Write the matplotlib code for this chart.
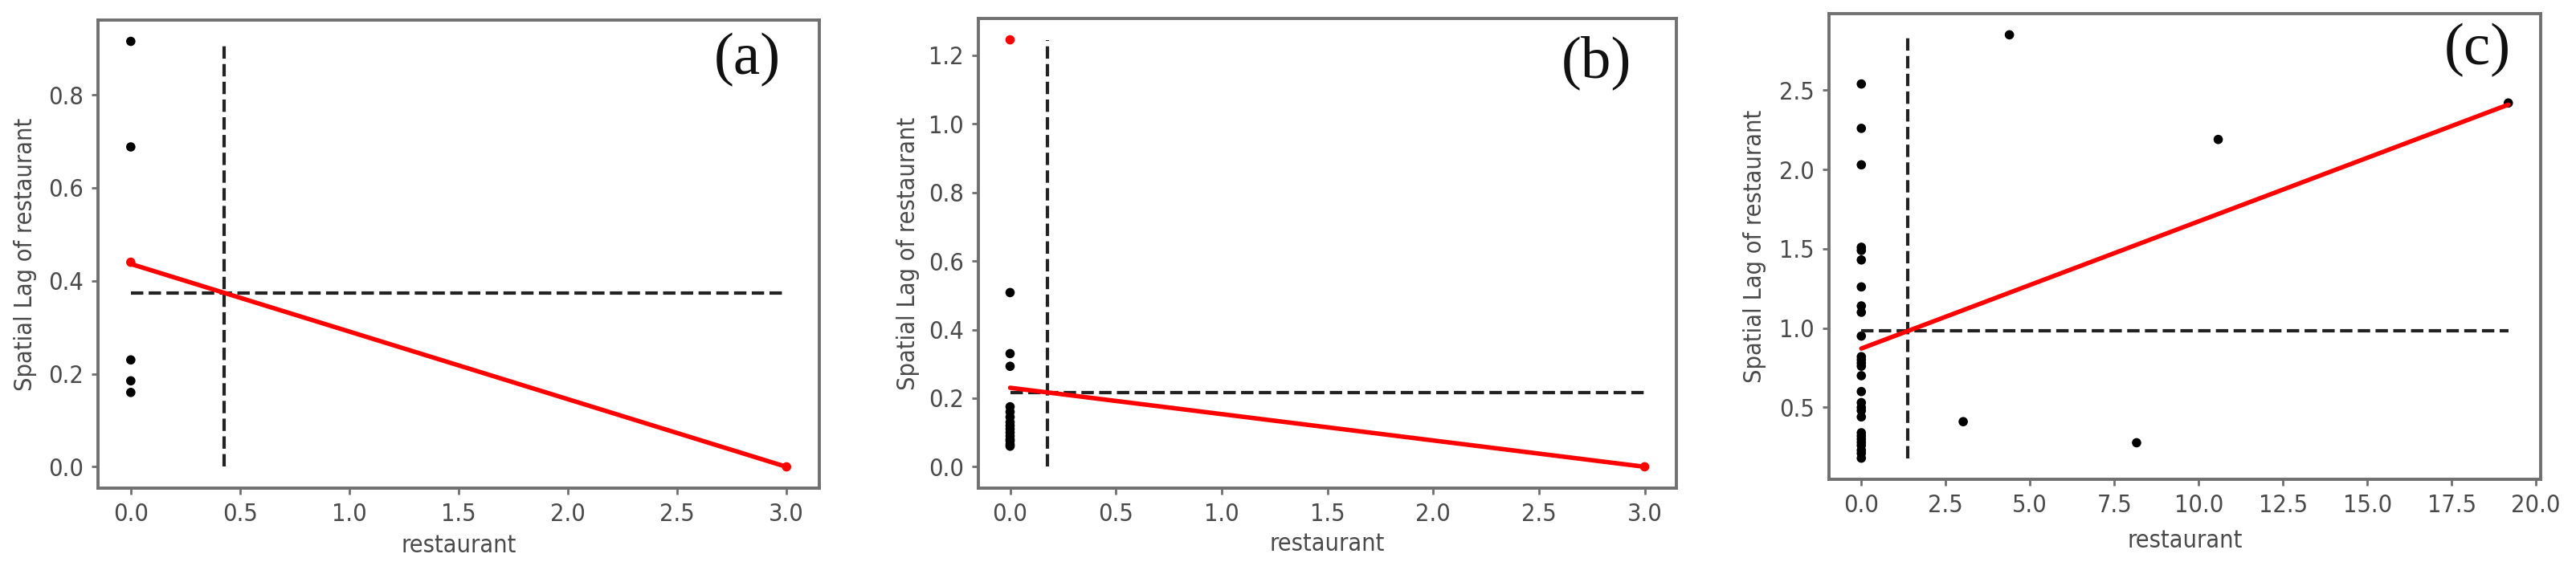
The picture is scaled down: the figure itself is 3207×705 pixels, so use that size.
import numpy as np
import matplotlib
matplotlib.use('Agg')
import matplotlib.pyplot as plt

# ---------------- data ----------------
letters = ['(a)', '(b)', '(c)']

a_x = [0, 0, 0, 0, 0, 0, 3.0]
a_lag = [0.915, 0.688, 0.44, 0.23, 0.185, 0.16, 0.0]
a_col = ['k', 'k', 'r', 'k', 'k', 'k', 'r']

b_x = [0] * 16 + [3.0]
b_lag = [1.245, 0.508, 0.33, 0.293,
         0.175, 0.16, 0.145, 0.13, 0.12, 0.11, 0.10, 0.09, 0.08, 0.075, 0.065, 0.06,
         0.0]
b_col = ['r'] + ['k'] * 15 + ['r']

c_x = [0] * 28 + [4.39, 10.58, 3.02, 8.16, 19.18]
c_lag = [2.54, 2.26, 2.03, 1.51, 1.49, 1.43, 1.26, 1.14, 1.10, 0.95,
         0.82, 0.80, 0.78, 0.76, 0.70, 0.60, 0.53, 0.50, 0.48, 0.44,
         0.34, 0.32, 0.30, 0.28, 0.26, 0.23, 0.21, 0.18,
         2.85, 2.19, 0.41, 0.277, 2.42]
c_col = ['k'] * 33

a_xticks = [0.0, 0.5, 1.0, 1.5, 2.0, 2.5, 3.0]
a_yticks = [0.0, 0.2, 0.4, 0.6, 0.8]
b_xticks = [0.0, 0.5, 1.0, 1.5, 2.0, 2.5, 3.0]
b_yticks = [0.0, 0.2, 0.4, 0.6, 0.8, 1.0, 1.2]
c_xticks = [0.0, 2.5, 5.0, 7.5, 10.0, 12.5, 15.0, 17.5, 20.0]
c_yticks = [0.5, 1.0, 1.5, 2.0, 2.5]

xlabel = 'restaurant'
ylabel = 'Spatial Lag of restaurant'

panels = [
    dict(x=a_x, y=a_lag, c=a_col, xt=a_xticks, yt=a_yticks, letter=letters[0]),
    dict(x=b_x, y=b_lag, c=b_col, xt=b_xticks, yt=b_yticks, letter=letters[1]),
    dict(x=c_x, y=c_lag, c=c_col, xt=c_xticks, yt=c_yticks, letter=letters[2]),
]

# ---------------- layout ----------------
W, H = 3207, 705
fig = plt.figure(figsize=(W / 100, H / 100), dpi=100)
rects = [
    [122 / W, (H - 608) / H, 898 / W, 583 / H],
    [1218 / W, (H - 608) / H, 869 / W, 585 / H],
    [2277 / W, (H - 597) / H, 886 / W, 580 / H],
]
letter_pos = [(0.90, 0.916), (0.886, 0.906), (0.911, 0.921)]
ylab_x = [-0.101, -0.101, -0.104]
xlab_y = [-0.122, -0.118, -0.132]

txt_col = '#4a4a4a'
spine_col = '#707070'
font = dict(family='DejaVu Sans', stretch='condensed')

for i, p in enumerate(panels):
    ax = fig.add_axes(rects[i])
    x = np.asarray(p['x'], float)
    y = np.asarray(p['y'], float)
    ax.scatter(x, y, s=70, c=p['c'], edgecolors='none', zorder=2)
    ax.vlines(x.mean(), y.min(), y.max(), colors='#222222', linestyles='--',
              linewidth=3, zorder=3)
    ax.hlines(y.mean(), x.min(), x.max(), colors='#222222', linestyles='--',
              linewidth=3, zorder=3)
    b, a = np.polyfit(x, y, 1)
    xs = np.sort(x)
    ax.plot(xs, a + b * xs, color='#ff0000', linewidth=4, zorder=4,
            solid_capstyle='round')

    ax.set_xticks(p['xt'])
    ax.set_xticklabels([f'{v:.1f}' for v in p['xt']], fontsize=22, color=txt_col, **font)
    ax.set_yticks(p['yt'])
    ax.set_yticklabels([f'{v:.1f}' for v in p['yt']], fontsize=22, color=txt_col, **font)
    ax.tick_params(length=6, width=2, color=spine_col, pad=7)
    for s in ax.spines.values():
        s.set_color(spine_col)
        s.set_linewidth(2.8)

    ax.set_xlabel(xlabel, fontsize=22, color=txt_col, **font)
    ax.set_ylabel(ylabel, fontsize=22, color=txt_col, **font)
    ax.xaxis.set_label_coords(0.5, xlab_y[i])
    ax.yaxis.set_label_coords(ylab_x[i], 0.5)
    ax.xaxis.label.set_va('center')
    ax.yaxis.label.set_va('center')

    ax.text(letter_pos[i][0], letter_pos[i][1], p['letter'], transform=ax.transAxes,
            ha='center', va='center', fontsize=54, family='Liberation Serif',
            color='#111111')

fig.savefig('out.png', dpi=100, facecolor='white')
